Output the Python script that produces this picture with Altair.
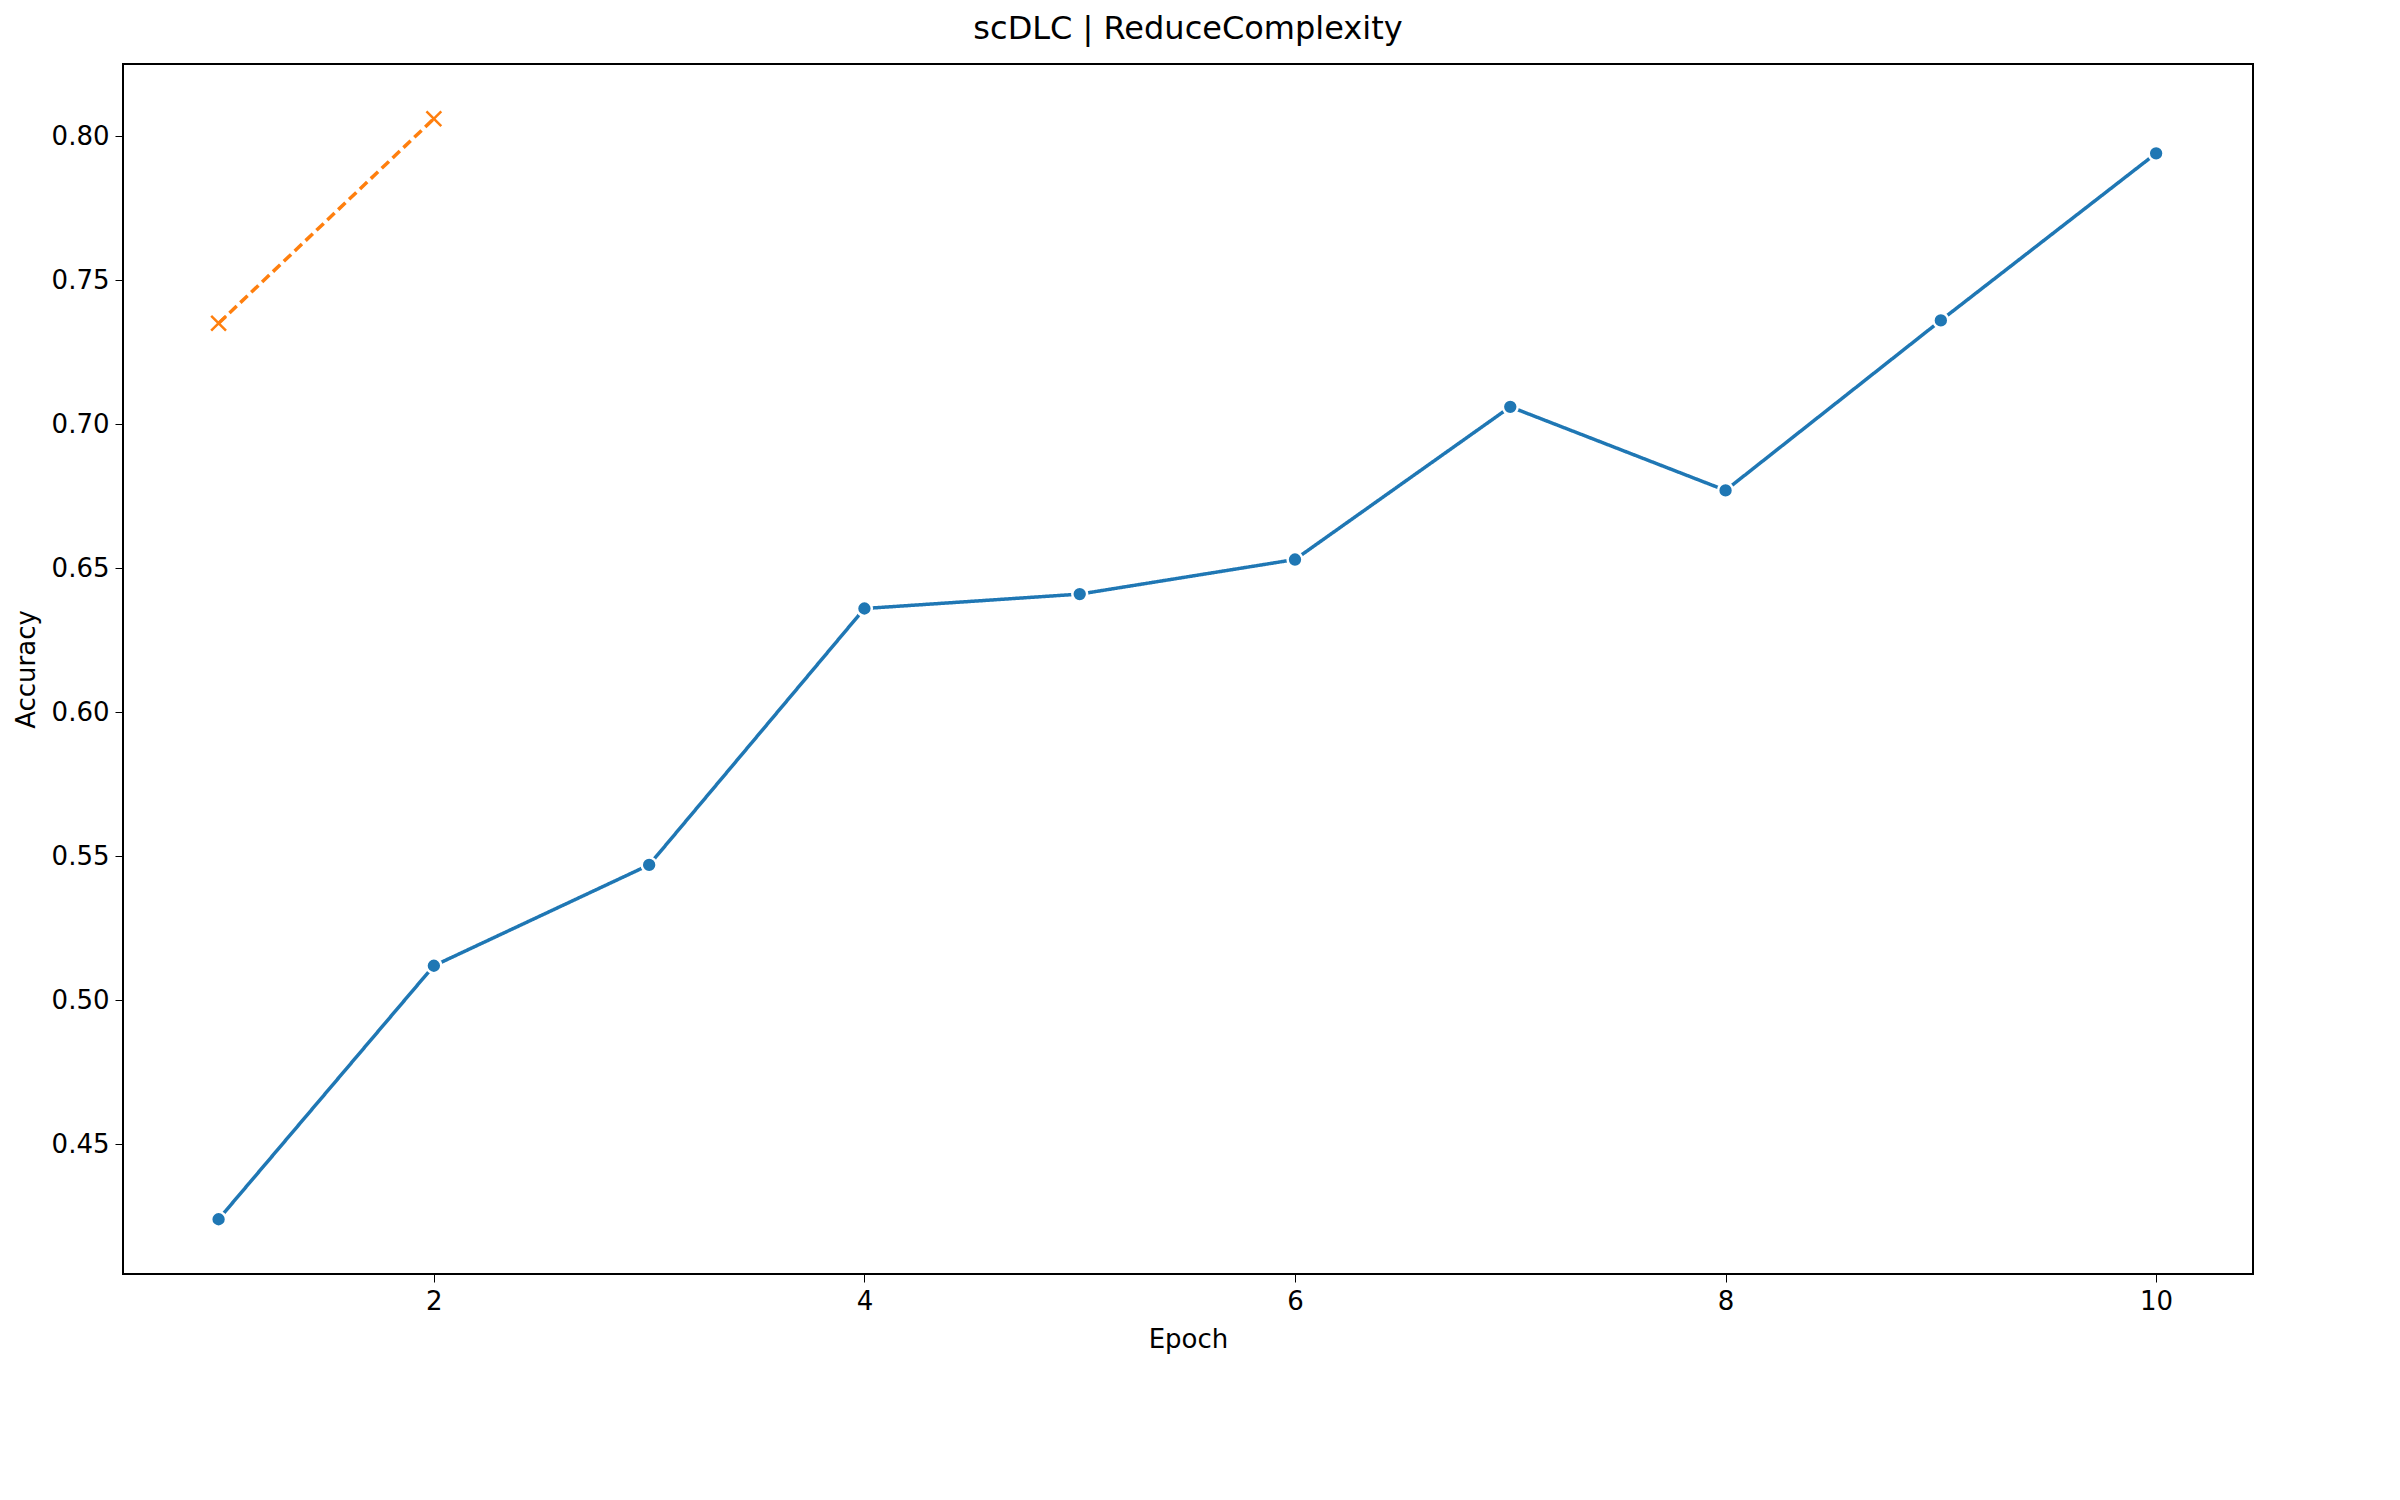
import altair as alt
import pandas as pd

epochs_scratch = [1, 2, 3, 4, 5, 6, 7, 8, 9, 10]
acc_scratch = [0.424, 0.512, 0.547, 0.636, 0.641, 0.653, 0.706, 0.677, 0.736, 0.794]
epochs_ft = [1, 2]
acc_ft = [0.735, 0.806]

df = pd.concat([
    pd.DataFrame({"Epoch": epochs_scratch, "Accuracy": acc_scratch, "Run": "scratch"}),
    pd.DataFrame({"Epoch": epochs_ft, "Accuracy": acc_ft, "Run": "fine_tune"}),
])

runs = ["scratch", "fine_tune"]
colors = ["#1f77b4", "#ff7f0e"]
xshape = "M-1,-1L1,1M1,-1L-1,1"

x = alt.X("Epoch:Q", title="Epoch", scale=alt.Scale(domain=[0.556, 10.45], nice=False, zero=False),
          axis=alt.Axis(values=[2, 4, 6, 8, 10], grid=False, format="d"))
y = alt.Y("Accuracy:Q", title="Accuracy", scale=alt.Scale(domain=[0.405, 0.825], nice=False, zero=False),
          axis=alt.Axis(values=[0.45, 0.5, 0.55, 0.6, 0.65, 0.7, 0.75, 0.8], grid=False, format=".2f"))
color = alt.Color("Run:N", scale=alt.Scale(domain=runs, range=colors), title="Run")

lines = alt.Chart(df).mark_line(strokeWidth=3.5).encode(
    x=x, y=y, color=color,
    strokeDash=alt.StrokeDash("Run:N", scale=alt.Scale(domain=runs, range=[[1, 0], [10, 5]]), title="Run"),
)
points = alt.Chart(df).mark_point(filled=True, size=220, strokeWidth=2.5, opacity=1).encode(
    x=x, y=y, color=color,
    stroke=alt.Stroke("Run:N", scale=alt.Scale(domain=runs, range=["white", "#ff7f0e"]), legend=None),
    shape=alt.Shape("Run:N", scale=alt.Scale(domain=runs, range=["circle", xshape]), title="Run"),
)

chart = (lines + points).properties(
    width=2130, height=1210,
    title=alt.Title("scDLC | ReduceComplexity", fontSize=32, fontWeight="normal", offset=18),
).configure(font="DejaVu Sans").configure_view(stroke="black", strokeWidth=2).configure_axis(
    labelFontSize=26, titleFontSize=26, titleFontWeight="normal", labelColor="black",
    titleColor="black", tickColor="black", domainColor="black", tickSize=8, labelPadding=6,
    titlePadding=12,
).configure_legend(
    orient="bottom-right", strokeColor="#cccccc", fillColor="white", padding=14, cornerRadius=5,
    titleFontSize=26, labelFontSize=26, titleFontWeight="normal", symbolSize=300,
    symbolStrokeWidth=3, offset=22, titleAnchor="middle", rowPadding=10,
)

chart.save("out.html", embed_options={"renderer": "svg", "actions": False})
